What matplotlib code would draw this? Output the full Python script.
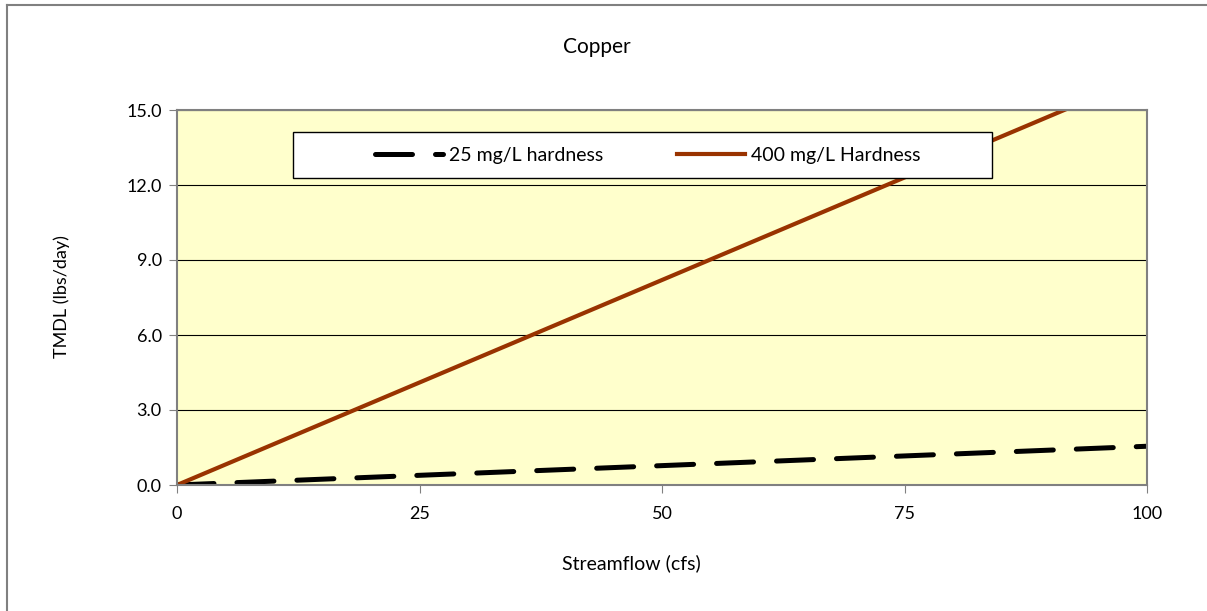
import matplotlib
matplotlib.use("Agg")
import matplotlib.pyplot as plt
from matplotlib.lines import Line2D
from matplotlib.patches import Rectangle

plt.rcParams['font.family'] = ['Lato', 'DejaVu Sans']

flow = [0, 100]
hard_25 = [0, 1.55]
hard_400 = [0, 16.4]
yticks = [0, 3, 6, 9, 12, 15]
xticks = [0, 25, 50, 75, 100]

W, H = 1207, 611
fig = plt.figure(figsize=(W / 100, H / 100), dpi=100)
# chart border: only top and left edges show in the picture
fig.add_artist(Line2D([7 / W, 7 / W], [0, 1 - 5 / H], color='#808080', lw=1.5,
                      transform=fig.transFigure))
fig.add_artist(Line2D([7 / W, 1206 / W], [1 - 5 / H, 1 - 5 / H], color='#808080', lw=1.5,
                      transform=fig.transFigure))

ax = fig.add_axes([177 / W, 1 - 485 / H, 970 / W, 375 / H])
ax.set_facecolor('#FFFFCC')

ax.plot(flow, hard_25, color='black', lw=3.6, dashes=(7.4, 4.6),
        label='25 mg/L hardness', dash_capstyle='round')
ax.plot(flow, hard_400, color='#993300', lw=3,
        label='400 mg/L Hardness')

ax.set_xlim(0, 100)
ax.set_ylim(0, 15)
ax.set_xticks(xticks)
ax.set_yticks(yticks)
ax.set_yticklabels([f'{v:.1f}' for v in yticks])
ax.yaxis.grid(True, color='black', lw=0.8)
ax.set_axisbelow(True)
for s in ax.spines.values():
    s.set_color('#808080')
    s.set_linewidth(1.5)
ax.tick_params(axis='both', direction='out', length=6, color='#808080',
               labelsize=13, pad=5)
ax.tick_params(axis='x', pad=9)

fig.text(597 / W, 1 - 47 / H, 'Copper', fontsize=15, ha='center', va='center')
fig.text(631 / W, 1 - 563 / H, 'Streamflow (cfs)', fontsize=14, ha='center', va='center')
fig.text(62 / W, 1 - 297 / H, 'TMDL (lbs/day)', fontsize=13, ha='center', va='center',
         rotation=90)

# legend box
ax.add_patch(Rectangle((116 / 970, 1 - 68 / 375), 699 / 970, 46 / 375,
                       transform=ax.transAxes, facecolor='white', edgecolor='black',
                       lw=1.0, zorder=4, clip_on=False))
leg = ax.legend(loc='center', bbox_to_anchor=((647.5 - 177) / 970, 1 - 45 / 375),
                ncol=2, frameon=False, fontsize=14, handlelength=3.5,
                handletextpad=0.3, columnspacing=3.8, borderaxespad=0)
leg.set_zorder(5)

fig.savefig('out.png', dpi=100)
